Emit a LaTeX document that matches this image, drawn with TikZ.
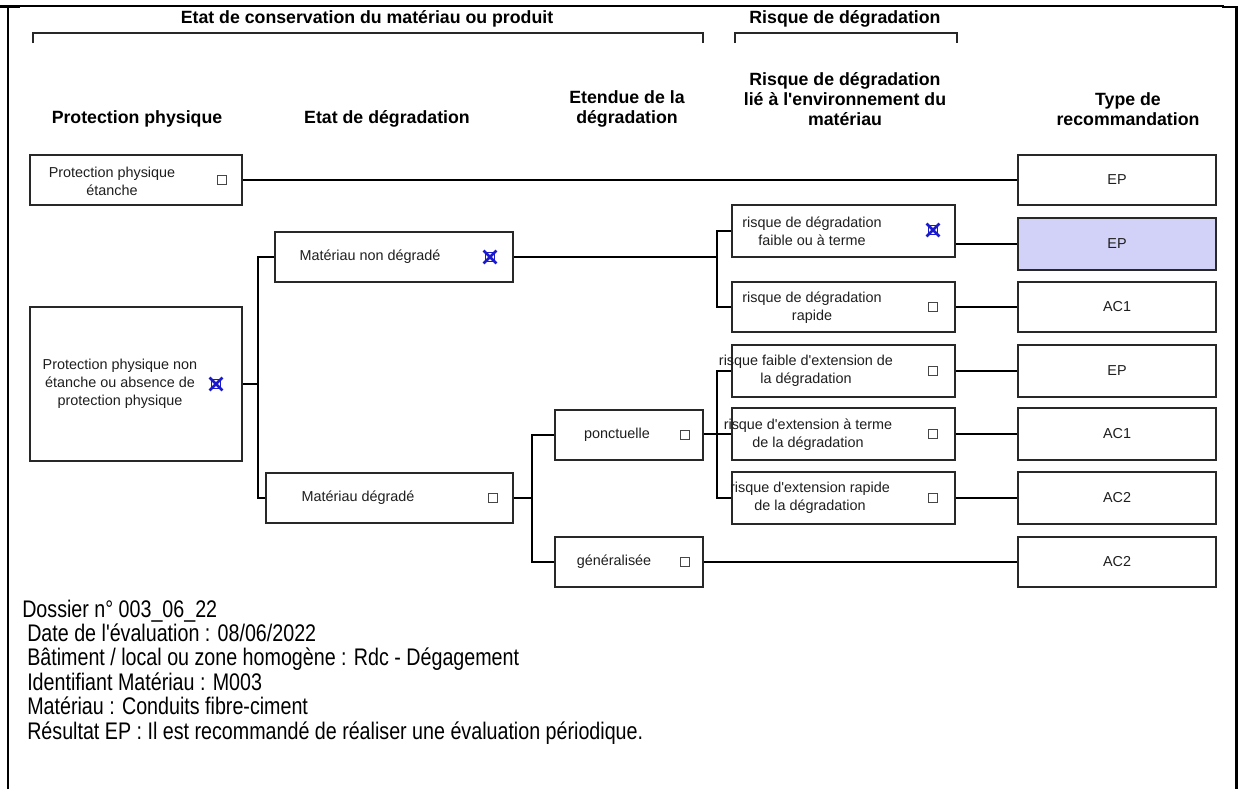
\documentclass[tikz,border=0pt]{standalone}
\usepackage{fontspec}
\newfontfamily\af{Liberation Sans}
\newfontfamily\narrowfont[FakeStretch=0.82]{Liberation Sans}
\usetikzlibrary{fit}
\definecolor{boxline}{RGB}{40,40,40}
\definecolor{chkgray}{RGB}{70,70,70}
\definecolor{xblue}{RGB}{25,25,205}
\definecolor{epfill}{RGB}{210,210,248}
\definecolor{txtgray}{RGB}{30,30,30}
\tikzset{
  box/.style={draw=boxline, line width=1.5pt, inner sep=0pt},
  recbox/.style={box},
  btext/.style={font=\af\fontsize{10.8}{13.5}\selectfont, align=center, inner sep=0pt, text=txtgray},
  hfont/.style={font=\af\bfseries\fontsize{13.3}{15}\selectfont, align=center, inner sep=0pt},
  chk/.style={draw=chkgray, line width=0.75pt, minimum size=6.5pt, inner sep=0pt},
  chkx/.style={draw=xblue, line width=0.9pt, minimum size=7pt, inner sep=0pt,
    append after command={
      \pgfextra{\draw[xblue, line width=2.1pt]
        ([shift={(-0.9pt,0.9pt)}]\tikzlastnode.north west) -- ([shift={(0.9pt,-0.9pt)}]\tikzlastnode.south east)
        ([shift={(0.9pt,0.9pt)}]\tikzlastnode.north east) -- ([shift={(-0.9pt,-0.9pt)}]\tikzlastnode.south west);}}},
  conn/.style={draw=black, line width=1.2pt},
  frame/.style={draw=black, line width=1.6pt},
  brk/.style={draw=boxline, line width=1.2pt},
  info/.style={font=\narrowfont\fontsize{18}{18}\selectfont, anchor=base west, inner sep=0pt}
}
\begin{document}
\begin{tikzpicture}[x=0.75pt, y=-0.75pt]
\useasboundingbox (0,0) rectangle (1238,789);

% frame
\draw[frame] (8,789) -- (8,6) -- (1224,6);
\draw[draw=black, line width=2.4pt] (0,6.5) -- (20,6.5);
\draw[draw=black, line width=2.2pt] (1222,7) -- (1236.5,7) -- (1236.5,789);

% top titles and brackets
\node[hfont] (t1) at (367,19) {Etat de conservation du matériau ou produit};
\node[hfont] (t2) at (845,19) {Risque de dégradation};
\coordinate (b1l) at (33,43);
\coordinate (b1r) at (703,43);
\coordinate (b2l) at (735,43);
\coordinate (b2r) at (957,43);
\draw[brk] (b1l) -- ++(0,-10) -| (b1r);
\draw[brk] (b2l) -- ++(0,-10) -| (b2r);

% column headers
\node[hfont] (h1) at (137,119) {Protection physique};
\node[hfont] (h2) at (387,119) {Etat de dégradation};
\node[hfont] (h3) at (627,109) {Etendue de la\\dégradation};
\node[hfont] (h4) at (845,99) {Risque de dégradation\\lié à l'environnement du\\matériau};
\node[hfont] (h5) at (1128,109) {Type de\\recommandation};

% column 1
\node[box, fit={(30,155) (242,205)}] (ppe) {};
\node[btext] (ppe-t) at (112,181) {Protection physique\\étanche};
\node[chk] (ppe-c) at (222,180) {};

\node[box, fit={(30,307) (242,461)}] (ppne) {};
\node[btext] (ppne-t) at (120,384) {Protection physique non\\étanche ou absence de\\protection physique};
\node[chkx] (ppne-c) at (216,384) {};

% column 2
\node[box, fit={(275,232) (513,282)}] (mnd) {};
\node[btext] (mnd-t) at (370,257) {Matériau non dégradé};
\node[chkx] (mnd-c) at (490,257) {};

\node[box, fit={(266,473) (513,523)}] (md) {};
\node[btext] (md-t) at (358,498) {Matériau dégradé};
\node[chk] (md-c) at (493,498) {};

% column 3
\node[box, fit={(555,410) (703,460)}] (pon) {};
\node[btext] (pon-t) at (617,435) {ponctuelle};
\node[chk] (pon-c) at (685,435) {};

\node[box, fit={(555,537) (703,587)}] (gen) {};
\node[btext] (gen-t) at (614,562) {généralisée};
\node[chk] (gen-c) at (685,562) {};

% column 4
\node[box, fit={(732,205) (955,257)}] (rdf) {};
\node[btext] (rdf-t) at (812,231) {risque de dégradation\\faible ou à terme};
\node[chkx] (rdf-c) at (933,230) {};

\node[box, fit={(732,282) (955,332)}] (rdr) {};
\node[btext] (rdr-t) at (812,308) {risque de dégradation\\rapide};
\node[chk] (rdr-c) at (933,307) {};

\node[box, fit={(732,345) (955,397)}] (rfe) {};
\node[btext] (rfe-t) at (806,371) {risque faible d'extension de\\la dégradation};
\node[chk] (rfe-c) at (933,371) {};

\node[box, fit={(732,408) (955,460)}] (ret) {};
\node[btext] (ret-t) at (808,435) {risque d'extension à terme\\de la dégradation};
\node[chk] (ret-c) at (933,434) {};

\node[box, fit={(732,472) (955,524)}] (rer) {};
\node[btext] (rer-t) at (810,498) {risque d'extension rapide\\de la dégradation};
\node[chk] (rer-c) at (933,498) {};

% column 5
\node[recbox, fit={(1018,155) (1216,205)}] (ep1) {};
\node[btext] (ep1-t) at (1117,180) {EP};
\node[recbox, fill=epfill, fit={(1018,218) (1216,270)}] (ep2) {};
\node[btext] (ep2-t) at (1117,244) {EP};
\node[recbox, fit={(1018,282) (1216,332)}] (ac1) {};
\node[btext] (ac1-t) at (1117,307) {AC1};
\node[recbox, fit={(1018,345) (1216,397)}] (ep3) {};
\node[btext] (ep3-t) at (1117,371) {EP};
\node[recbox, fit={(1018,408) (1216,460)}] (ac1b) {};
\node[btext] (ac1b-t) at (1117,434) {AC1};
\node[recbox, fit={(1018,472) (1216,524)}] (ac2) {};
\node[btext] (ac2-t) at (1117,498) {AC2};
\node[recbox, fit={(1018,537) (1216,587)}] (ac2b) {};
\node[btext] (ac2b-t) at (1117,562) {AC2};

% junctions
\coordinate (j1) at (258,384);
\coordinate (j2) at (717,257);
\coordinate (j3) at (532,498);
\coordinate (j4) at (717,434);

% connectors
\draw[conn] (ppe.east) -- (ep1.west);
\draw[conn] (ppne.east) -- (j1);
\draw[conn] (mnd.west) -| (j1);
\draw[conn] (md.west) -| (j1);
\draw[conn] (mnd.east) -- (j2);
\draw[conn] (rdf.west) -| (j2);
\draw[conn] (rdr.west) -| (j2);
\draw[conn] (rdf.east |- ep2.west) -- (ep2.west);
\draw[conn] (rdr.east) -- (rdr.east -| ac1.west);
\draw[conn] (md.east) -- (j3);
\draw[conn] (pon.west) -| (j3);
\draw[conn] (gen.west) -| (j3);
\draw[conn] (pon.east |- j4) -- (j4);
\draw[conn] (rfe.west) -| (j4);
\draw[conn] (ret.west) -| (j4);
\draw[conn] (rer.west) -| (j4);
\draw[conn] (rfe.east) -- (rfe.east -| ep3.west);
\draw[conn] (ret.east) -- (ret.east -| ac1b.west);
\draw[conn] (rer.east) -- (rer.east -| ac2.west);
\draw[conn] (gen.east) -- (gen.east -| ac2b.west);

% info text
\node[info] (i1) at (22,617) {Dossier n° 003\_06\_22};
\node[info] (i2) at (27,641.4) {Date de l'évaluation : 08/06/2022};
\node[info] (i3) at (27,665.8) {Bâtiment / local ou zone homogène : Rdc - Dégagement};
\node[info] (i4) at (27,690.2) {Identifiant Matériau : M003};
\node[info] (i5) at (27,714.6) {Matériau : Conduits fibre-ciment};
\node[info] (i6) at (27,739) {Résultat EP : Il est recommandé de réaliser une évaluation périodique.};
\end{tikzpicture}
\end{document}
